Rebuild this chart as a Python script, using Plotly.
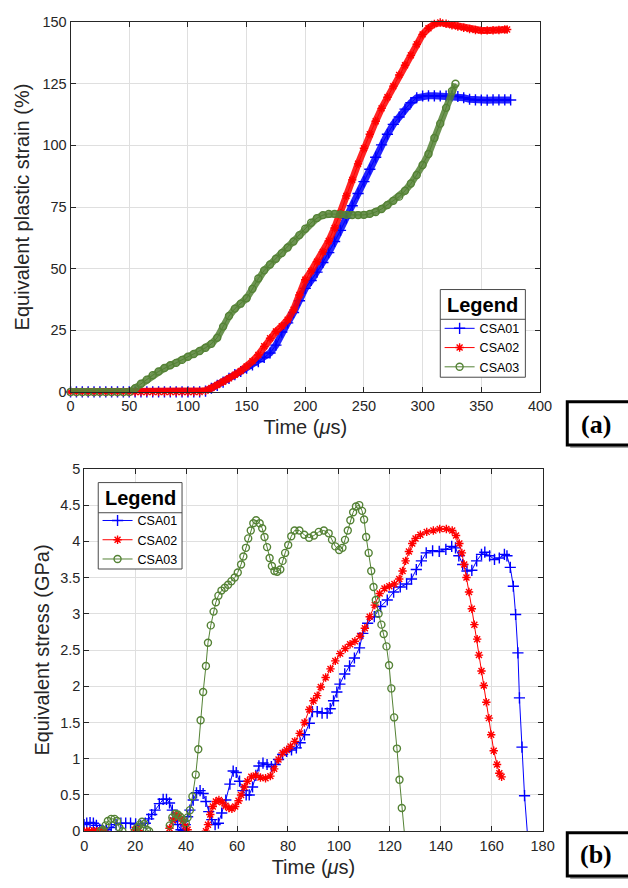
import plotly.graph_objects as go

# ---------------- Panel (a): equivalent plastic strain vs time ----------------
a_time_csa01 = [0, 5, 10, 15, 20, 25, 30, 35, 40, 45, 50, 55, 60, 65, 70, 75, 80, 85, 90, 95,
                100, 105, 110, 115, 120, 125, 130, 135, 140, 145, 150, 155, 160, 165, 170, 175,
                180, 185, 190, 195, 200, 205, 210, 215, 220, 225, 230, 235, 240, 245, 250, 255,
                260, 265, 270, 275, 280, 285, 290, 295, 300, 305, 310, 315, 320, 325, 330, 335,
                340, 345, 350, 355, 360, 365, 370, 375]
a_strain_csa01 = [0, 0, 0, 0, 0, 0, 0, 0, 0, 0, 0, 0, 0, 0, 0, 0, 0, 0, 0, 0,
                  0, 0, 0, 0.3, 1.5, 2.7, 4.0, 5.5, 7.0, 8.3, 9.7, 11.0, 12.3, 14.0, 15.8, 19.0,
                  24.3, 28.0, 32.2, 37.0, 42.0, 45.2, 48.6, 52.5, 56.5, 61.0, 65.5, 70.5, 75.5, 80.5, 85.3, 90.3,
                  95.2, 100.2, 104.5, 108.5, 111.5, 114.7, 117.3, 119.3, 120.0, 120.1, 120.1, 120.0, 120.0, 120.0, 119.8, 119.3,
                  118.7, 118.4, 118.3, 118.3, 118.4, 118.4, 118.4, 118.4]

a_time_csa02 = [0, 5, 10, 15, 20, 25, 30, 35, 40, 45, 50, 55, 60, 65, 70, 75, 80, 85, 90, 95,
                100, 105, 110, 115, 120, 125, 130, 135, 140, 145, 150, 155, 160, 165, 170, 175,
                180, 185, 190, 195, 200, 205, 210, 215, 220, 225, 230, 235, 240, 245, 250, 255,
                260, 265, 270, 275, 280, 285, 290, 295, 300, 305, 310, 315, 320, 325, 330, 335,
                340, 345, 350, 355, 360, 365, 370, 372]
a_strain_csa02 = [0, 0, 0, 0, 0, 0, 0, 0, 0, 0, 0, 0, 0, 0, 0, 0, 0, 0, 0, 0,
                  0, 0, 0, 0.5, 1.6, 2.8, 4.1, 5.5, 7.0, 8.5, 10.3, 12.5, 15.0, 18.5, 21.8, 24.5,
                  26.7, 29.3, 33.3, 39.3, 45.5, 49.0, 52.8, 56.8, 61.2, 66.5, 72.5, 79.5, 86.0, 92.5, 98.8, 104.5,
                  109.8, 115.0, 119.5, 124.0, 128.5, 132.5, 136.5, 141.0, 145.0, 147.5, 149.2, 149.8, 149.3, 148.7, 148.2, 147.7,
                  147.2, 146.8, 146.6, 146.6, 146.7, 146.8, 147.0, 147.0]

a_time_csa03 = [0, 5, 10, 15, 20, 25, 30, 35, 40, 45, 50, 55, 60, 65, 70, 75, 80, 85, 90, 95,
                100, 105, 110, 115, 120, 125, 130, 135, 140, 145, 150, 155, 160, 165, 170, 175,
                180, 185, 190, 195, 200, 205, 210, 215, 220, 225, 230, 235, 240, 245, 250, 255,
                260, 265, 270, 275, 280, 285, 290, 295, 300, 305, 310, 315, 320, 325, 328]
a_strain_csa03 = [0, 0, 0, 0, 0, 0, 0, 0, 0, 0, 0, 1.5, 3.3, 5.0, 6.8, 8.3, 9.7, 10.8, 11.8, 13.0,
                  14.3, 15.4, 16.6, 17.9, 19.5, 22.0, 26.5, 30.8, 33.8, 35.8, 38.0, 41.8, 46.0, 49.3, 51.7, 54.0,
                  56.3, 58.6, 61.0, 63.6, 66.2, 68.6, 70.5, 71.7, 72.2, 72.2, 72.0, 71.8, 71.7, 71.7, 71.8, 72.2,
                  73.0, 74.2, 75.8, 77.5, 79.2, 81.6, 84.5, 88.0, 92.0, 96.5, 103.0, 108.8, 115.2, 122.0, 125.0]

# ---------------- Panel (b): equivalent stress vs time ----------------
b_time_csa01 = [0, 1, 2.3, 3.6, 4.8, 6.1, 7.4, 8.7, 10.6, 12.5, 14.4, 16.3, 18.2, 20.2, 22.1, 24,
                25.3, 26.5, 27.8, 29.5, 31, 32.3, 33.5, 34.6, 35.7, 36.7, 38, 38.9, 39.7, 40.6, 41.5,
                42.8, 44.1, 45.5, 46.7, 47.8, 48.9, 50.1, 51.4, 52.7, 54, 55.6, 57.2, 58.5, 59.7, 61,
                62.3, 63.6, 64.8, 66.1, 67.4, 68.6, 70.2, 71.8, 73.5, 75, 76.3, 77.9, 79.5, 81.4, 83.3,
                84.8, 86.5, 88.4, 89.6, 91.5, 93.4, 95.4, 96.6, 97.9, 99.2, 100.4, 102.3, 104.2, 106.1,
                108.1, 109.4, 111.3, 113.9, 116.4, 119, 121.5, 124.1, 126.6, 128.5, 130.4, 132.4, 134.3,
                136.8, 139.4, 142, 144.3, 145.8, 147.1, 148.6, 150.3, 152.2, 154.1, 156, 157.3, 159.2,
                161.1, 163, 165, 166, 167.3, 168.5, 169.4, 170.3, 170.9, 171.9, 172.9, 174.5]
b_stress_csa01 = [0.09, 0.11, 0.12, 0.11, 0.08, 0.03, 0.01, 0.02, 0.05, 0.09, 0.11, 0.11, 0.11, 0.10, 0.08, 0.11,
                  0.17, 0.23, 0.29, 0.38, 0.44, 0.44, 0.39, 0.29, 0.18, 0.09, 0.02, 0.01, 0.09, 0.20, 0.29,
                  0.43, 0.53, 0.56, 0.52, 0.41, 0.27, 0.16, 0.09, 0.11, 0.25, 0.43, 0.65, 0.83, 0.81, 0.69,
                  0.56, 0.50, 0.50, 0.61, 0.77, 0.90, 0.94, 0.92, 0.89, 0.92, 0.99, 1.06, 1.10, 1.12, 1.15,
                  1.22, 1.33, 1.49, 1.65, 1.65, 1.63, 1.63, 1.69, 1.80, 1.92, 2.03, 2.17, 2.28, 2.39,
                  2.53, 2.73, 2.87, 2.96, 3.10, 3.19, 3.30, 3.37, 3.41, 3.48, 3.61, 3.73, 3.84,
                  3.87, 3.86, 3.89, 3.93, 3.91, 3.80, 3.68, 3.59, 3.60, 3.73, 3.82, 3.85, 3.80,
                  3.75, 3.77, 3.82, 3.80, 3.64, 3.38, 2.99, 2.46, 1.84, 1.16, 0.49, -0.25]

b_time_csa02 = [0, 1, 2, 3, 4, 5, 6, 7, 8, None,
                19.8, 20.6, 21.4, None,
                33.5, 34.8, 36.1, 37.4, 38.6, 39.7, 40.6, None,
                47.8, 48.6, 49.5, 50.5, 51.7, 52.9, 54.2, 55.5, 56.8, 58, 59.3, 60.6, 61.6, 62.9, 64.1,
                65.6, 67.3, 69.2, 71.2, 73.1, 74.6, 76.3, 77.9, 79.5, 81, 82.7, 84.6, 86.5, 88.4, 90,
                91.5, 92.9, 94.8, 96.7, 98.6, 100.5, 102.5, 104.4, 106.3, 108.3, 110.2, 112.1, 114.1,
                116, 117.9, 119.8, 121.8, 123.7, 125, 126.2, 127.5, 128.8, 130.1, 132, 134.5, 137.1,
                139.6, 142.2, 144.5, 146, 147.3, 148.3, 149.2, 150.1, 151.1, 152.2, 153.2, 154.3, 155,
                156, 156.9, 157.9, 158.9, 159.8, 160.8, 162.1, 163, 163.9]
b_stress_csa02 = [0, 0, 0, 0, 0, 0, 0, 0, 0, None,
                  0.02, 0.03, 0.01, None,
                  0.04, 0.15, 0.23, 0.20, 0.14, 0.07, 0.02, None,
                  0, 0.09, 0.23, 0.34, 0.41, 0.43, 0.40, 0.35, 0.32, 0.31, 0.34, 0.42, 0.50, 0.61, 0.69,
                  0.75, 0.77, 0.74, 0.73, 0.76, 0.86, 0.99, 1.08, 1.12, 1.17, 1.24, 1.35, 1.50, 1.68, 1.80,
                  1.87, 1.99, 2.12, 2.24, 2.35, 2.45, 2.52, 2.58, 2.62, 2.69, 2.80, 2.96, 3.12,
                  3.28, 3.35, 3.38, 3.41, 3.48, 3.59, 3.73, 3.86, 3.97, 4.04, 4.09, 4.13, 4.15,
                  4.17, 4.17, 4.15, 4.08, 3.97, 3.84, 3.68, 3.50, 3.30, 3.07, 2.85, 2.65, 2.43,
                  2.21, 2.01, 1.78, 1.56, 1.33, 1.11, 0.92, 0.80, 0.75]

b_time_csa03 = [6.5, 7.4, 8.4, 9.3, 10.6, 11.9, 12.9, 13.8, 15, None,
                20, 20.8, 21.8, 22.7, 23.6, 24.6, 25.5, None,
                33.6, 34.6, 35.7, 36.7, 37.7, 38.9, 39.9, 40.6, 41.5, 42.5, 43.8, 44.8, 45.7, 46.7,
                47.8, 48.6, 49.7, 50.8, 51.7, 52.7, 53.9, 55.2, 56.5, 57.8, 59.1, 60.3, 61.6, 62.5,
                63.5, 64.4, 65.4, 66.4, 67.5, 68.9, 69.9, 70.8, 71.8, 72.8, 73.7, 74.7, 75.8, 77,
                77.9, 78.9, 80.1, 81.3, 82.6, 84.5, 86.4, 88.3, 90.2, 92.1, 94.1, 96, 97.3, 98.6,
                100.1, 101.4, 102.4, 103.5, 104.5, 105.6, 106.7, 108, 109.1, 109.9, 110.7, 111.7,
                112.7, 113.6, 114.5, 115.6, 116.7, 117.6, 118.7, 119.7, 120.6, 121.7, 122.8, 123.8,
                124.7, 126.5]
b_stress_csa03 = [0, 0.02, 0.08, 0.14, 0.17, 0.17, 0.14, 0.05, 0, None,
                  0, 0.05, 0.09, 0.13, 0.10, 0.02, 0, None,
                  0.08, 0.19, 0.24, 0.23, 0.20, 0.16, 0.11, 0.19, 0.29, 0.48, 0.78, 1.13, 1.53, 1.92,
                  2.28, 2.60, 2.84, 3.03, 3.16, 3.25, 3.32, 3.36, 3.40, 3.45, 3.50, 3.57, 3.68, 3.79,
                  3.91, 4.04, 4.15, 4.25, 4.29, 4.25, 4.18, 4.06, 3.92, 3.77, 3.66, 3.59, 3.58, 3.61,
                  3.73, 3.84, 3.95, 4.07, 4.15, 4.15, 4.09, 4.05, 4.08, 4.13, 4.15, 4.11, 4.02, 3.93,
                  3.88, 3.91, 4.02, 4.15, 4.29, 4.40, 4.48, 4.50, 4.42, 4.30, 4.06, 3.84,
                  3.59, 3.37, 3.19, 3.00, 2.85, 2.72, 2.55, 2.29, 1.97, 1.57, 1.14, 0.71,
                  0.32, -0.32]

series_names = ["CSA01", "CSA02", "CSA03"]
series_colors = ["#0000ff", "#ff0000", "#548235"]
series_symbols = ["cross-thin-open", "asterisk-open", "circle-open"]
symbol_sizes = [8, 7, 7]

panel_a = [(a_time_csa01, a_strain_csa01), (a_time_csa02, a_strain_csa02), (a_time_csa03, a_strain_csa03)]
panel_b = [(b_time_csa01, b_stress_csa01), (b_time_csa02, b_stress_csa02), (b_time_csa03, b_stress_csa03)]

W, H = 628, 888
def px_x(v):
    return v / W
def px_y(v):
    return 1 - v / H

TEXT = "#262626"
GRID = "#dfdfdf"
FRAME = "#4a4a4a"
FONT = "Liberation Sans, Arial, sans-serif"

fig = go.Figure()

# Panel (a): a thick band of densely packed markers, plus a thin trace for the legend key
for (t, v), name, col, sym, sz in zip(panel_a, series_names, series_colors, series_symbols, symbol_sizes):
    fig.add_trace(go.Scatter(x=t, y=v, mode="lines", xaxis="x", yaxis="y",
                             line=dict(color=col, width=7), opacity=0.85, cliponaxis=False,
                             showlegend=False, hoverinfo="skip"))
    fig.add_trace(go.Scatter(x=t, y=v, mode="lines+markers", name=name, xaxis="x", yaxis="y",
                             legend="legend", cliponaxis=False,
                             line=dict(color=col, width=1),
                             marker=dict(symbol=sym, size=sz, color=col, line=dict(color=col, width=1.4))))

# Panel (b)
for (t, v), name, col, sym, sz in zip(panel_b, series_names, series_colors, series_symbols, symbol_sizes):
    fig.add_trace(go.Scatter(x=t, y=v, mode="lines+markers", name=name, xaxis="x2", yaxis="y2",
                             legend="legend2",
                             line=dict(color=col, width=1),
                             marker=dict(symbol=sym, size=sz, color=col, line=dict(color=col, width=1.4))))

axis_common = dict(showgrid=True, gridcolor=GRID, gridwidth=1, zeroline=False,
                   showline=True, linecolor=TEXT, linewidth=1, mirror="ticks",
                   ticks="inside", ticklen=5, tickcolor=TEXT, tickwidth=1,
                   tickfont=dict(family=FONT, size=14.5, color=TEXT))
title_font = dict(family=FONT, size=20, color=TEXT)
legend_common = dict(xanchor="left", yanchor="top", bgcolor="rgba(0,0,0,0)", borderwidth=0,
                     font=dict(family=FONT, size=12.5, color="black"),
                     tracegroupgap=0, itemwidth=30)

fig.update_layout(
    width=W, height=H, margin=dict(l=0, r=0, t=0, b=0),
    paper_bgcolor="white", plot_bgcolor="white",
    font=dict(family=FONT, color=TEXT),
    xaxis=dict(domain=[px_x(68.3), px_x(550)], anchor="y", range=[0, 400], dtick=50,
               ticklabelstandoff=1,
               title=dict(text="Time (<i>μ</i>s)", font=title_font, standoff=6), **axis_common),
    yaxis=dict(domain=[px_y(391), px_y(14.3)], anchor="x", range=[0, 150], dtick=25,
               title=dict(text="Equivalent plastic strain (%)", font=title_font, standoff=7), **axis_common),
    xaxis2=dict(domain=[px_x(82.3), px_x(552.7)], anchor="y2", range=[0, 180], dtick=20,
                ticklabelstandoff=1,
                title=dict(text="Time (<i>μ</i>s)", font=title_font, standoff=7), **axis_common),
    yaxis2=dict(domain=[px_y(838.3), px_y(469.3)], anchor="x2", range=[0, 5], dtick=0.5,
                title=dict(text="Equivalent stress (GPa)", font=title_font, standoff=5), **axis_common),
    legend=dict(x=px_x(447), y=px_y(311.3), **legend_common),
    legend2=dict(x=px_x(96), y=px_y(507), **legend_common),
)

# legend frames: white panel, border and a rule under the "Legend" heading
legend_boxes = [(447.7, 535.0, 286.7, 376.0, 317.0), (96.7, 182.7, 483.3, 571.3, 514.0)]
shapes = []
for x0, x1, y0, y1, ysep in legend_boxes:
    shapes.append(dict(type="rect", xref="paper", yref="paper", layer="above",
                       x0=px_x(x0), x1=px_x(x1), y0=px_y(y1), y1=px_y(y0),
                       fillcolor="white", line=dict(color=FRAME, width=1)))
    shapes.append(dict(type="line", xref="paper", yref="paper", layer="above",
                       x0=px_x(x0), x1=px_x(x1), y0=px_y(ysep), y1=px_y(ysep),
                       line=dict(color=FRAME, width=1)))
    fig.add_annotation(x=px_x((x0 + x1) / 2), y=px_y((y0 + ysep) / 2 + 0.5), xref="paper", yref="paper",
                       text="<b>Legend</b>", showarrow=False, xanchor="center", yanchor="middle",
                       font=dict(family=FONT, size=20, color="black"))

# panel tag boxes with a soft drop shadow
for top, bottom in [(401, 445), (840, 884)]:
    shapes.append(dict(type="rect", xref="paper", yref="paper", x0=px_x(581), x1=px_x(645),
                       y0=px_y(bottom + 3), y1=px_y(top + 3), fillcolor="#a8a8a8", line=dict(width=0)))
    shapes.append(dict(type="rect", xref="paper", yref="paper", x0=px_x(578), x1=px_x(642),
                       y0=px_y(bottom), y1=px_y(top), fillcolor="white",
                       line=dict(color="black", width=3)))
fig.update_layout(shapes=shapes)

for label, cy in [("(a)", 424), ("(b)", 862)]:
    fig.add_annotation(x=px_x(607), y=px_y(cy), xref="paper", yref="paper",
                       text=f"<b>{label}</b>", showarrow=False, xanchor="center", yanchor="middle",
                       font=dict(family="Liberation Serif, Times New Roman, serif", size=26, color="black"))

fig.write_html("out.html")
